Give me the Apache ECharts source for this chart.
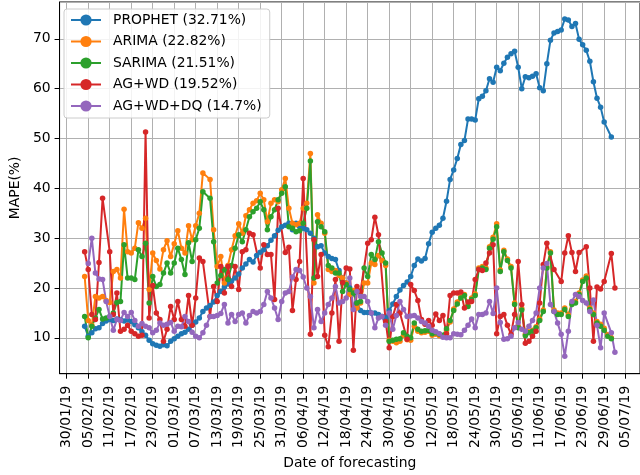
<!DOCTYPE html>
<html lang="en">
<head>
<meta charset="UTF-8">
<title>MAPE by date of forecasting</title>
<script src="https://cdn.jsdelivr.net/npm/echarts@6/dist/echarts.min.js"></script>
<style>
  html, body { margin: 0; padding: 0; background: #fff; }
  #main { width: 640px; height: 475px; }
</style>
</head>
<body>
<div id="main"></div>
<script>
// one value per day starting 04/02/19, null = no point drawn that day
var firstDay = '04/02/19';

var prophet = [
  12.3, 10.3, 11.0, 11.8, 12.0, 12.9, 13.4, 13.7, 13.5, 13.8,
  13.6, 13.4, 13.6, 13.3, 12.6, 12.0, 11.2, 10.5, 9.5, 8.8,
  8.5, 8.3, 8.6, 8.4, 9.3, 9.8, 10.3, 10.8, 11.1, 11.7,
  12.5, 13.2, 14.0, 15.3, 16.0, 16.5, 17.2, 18.5, 19.3, 20.2,
  20.8, 21.4, 22.0, 22.8, 24.0, 24.8, 25.7, 25.2, 26.5, 27.2,
  27.7, 28.5, 29.6, 30.5, 31.6, 32.3, 32.6, 33.0, 31.7, 33.0,
  32.3, 32.0, 31.7, 31.0, 30.0, 28.3, 28.5, 27.0, 26.3, 25.9,
  25.7, 23.5, 22.0, 21.0, 20.0, 19.0, 17.0, 15.5, 15.1, 15.1,
  15.0, 15.0, 14.7, 14.3, 14.0, 15.5, 16.8, 18.3, 19.6, 20.5,
  21.2, 22.3, 24.5, 25.8, 25.4, 25.9, 28.9, 31.2, 32.0, 32.6,
  34.0, 37.4, 41.8, 43.7, 46.0, 48.8, 49.6, 53.9, 53.9, 53.7,
  58.0, 58.5, 59.6, 62.0, 61.3, 64.3, 63.6, 65.1, 66.3, 67.0,
  67.5, 64.3, 60.0, 62.4, 62.2, 62.5, 63.0, 60.2, 59.6, 65.0,
  69.7, 71.2, 71.5, 71.8, 74.0, 73.8, 72.5, 73.1, 69.9, 68.8,
  67.7, 65.5, 61.4, 58.1, 56.3, 53.3, null, 50.3, null
];

var arima = [
  22.3, 13.5, 12.5, 18.3, 18.0, 18.3, 17.5, 17.1, 23.3, 23.7,
  22.0, 35.8, 27.3, 27.0, 28.0, 33.1, 32.0, 34.0, 19.7, 27.0,
  25.5, 23.8, 27.7, 29.5, 26.3, 28.9, 31.5, 28.0, 27.0, 32.5,
  29.7, 32.5, 35.0, 43.1, null, 41.8, 31.7, 24.3, 26.3, 21.0,
  24.5, 27.7, 30.5, 32.9, 31.0, 34.5, 35.7, 37.0, 37.5, 39.0,
  37.7, 33.3, 37.0, 37.7, 37.3, 39.7, 42.0, 36.0, 33.0, 32.7,
  33.0, 36.0, 37.0, 47.0, 21.0, 34.7, 33.0, 31.0, 23.7, 23.3,
  23.5, 22.5, 22.0, 21.0, 18.7, 19.5, 16.0, 17.0, 21.0, 21.0,
  25.0, 24.7, 26.5, 25.5, 24.5, 9.5, 9.3, 9.0, 9.3, 10.5,
  9.6, 9.5, 12.3, 11.3, 11.0, 11.1, 11.3, 10.5, 10.7, 10.4,
  10.3, 11.5, 13.2, 15.8, 17.2, 18.3, 18.7, 16.6, 18.0, 18.8,
  24.0, 24.3, 24.0, 28.3, 30.2, 32.9, 23.6, 27.6, 25.8, 24.3,
  17.0, 12.3, 15.9, 10.7, 11.2, 11.5, 12.2, 13.8, 15.6, 24.3,
  27.3, 15.6, 15.0, 15.0, 16.0, 14.6, 17.0, 17.3, 19.0, 21.6,
  22.4, 16.0, 15.0, 13.3, 12.7, 11.9, 10.6, 10.0, null
];

var sarima = [
  14.3, 10.0, 12.3, 14.0, 15.7, 13.8, 14.0, 14.3, 15.0, 17.1,
  17.3, 28.7, 22.0, 22.0, 21.7, 27.7, 26.3, 29.0, 17.0, 22.3,
  20.3, 20.7, 23.0, 25.0, 23.0, 25.0, 28.0, 25.7, 22.7, 29.1,
  25.3, 29.7, 32.0, 39.3, null, 38.0, 29.3, 21.0, 22.5, 23.7,
  21.7, 24.5, 28.0, 30.7, 29.3, 31.7, 34.3, 35.3, 36.0, 37.3,
  35.7, 31.7, 34.3, 35.7, 37.7, 39.0, 40.3, 32.3, 32.0, 31.3,
  31.5, 33.0, 36.0, 45.5, 22.0, 33.3, 32.3, 31.3, 24.5, 24.0,
  23.0, 23.0, 19.3, 20.7, 19.7, 19.0, 17.0, 17.3, 24.0, 22.3,
  26.7, 25.7, 29.3, 27.0, 25.0, 9.3, 9.5, 9.7, 9.8, 11.0,
  10.3, 10.0, 13.0, 11.7, 11.3, 11.4, 11.5, 10.8, 11.0, 10.7,
  10.5, 11.8, 13.5, 15.5, 16.8, 18.0, 18.5, 16.3, 17.7, 18.5,
  23.7, 24.0, 23.7, 28.0, 29.8, 32.3, 23.3, 27.3, 25.5, 24.0,
  16.7, 12.0, 15.6, 10.4, 11.0, 11.3, 12.0, 13.5, 15.3, 24.0,
  27.0, 15.3, 14.7, 14.7, 15.7, 14.3, 16.7, 17.0, 18.7, 21.3,
  22.0, 15.7, 14.7, 13.0, 12.3, 11.5, 10.3, 9.8, null
];

var agWd = [
  27.3, 23.7, 14.7, 13.7, 25.1, 38.0, null, 27.3, 14.7, 19.0,
  11.3, 11.7, 12.5, 11.3, 10.8, 10.3, 10.5, 51.3, 14.0, 20.5,
  15.0, 13.7, 9.3, 11.7, 16.3, 13.7, 17.3, 13.7, 12.3, 18.5,
  12.5, 18.0, 26.0, 25.3, null, 14.3, 20.3, 17.3, 24.3, 19.0,
  24.3, 20.3, 24.3, 19.7, 27.3, 27.7, 31.0, 30.7, null, 24.0,
  28.7, 26.7, 26.7, 17.7, 36.0, null, 27.1, 28.2, 15.5, 21.7,
  25.3, 42.0, null, 10.7, 29.7, 22.3, 26.7, 10.5, 8.2, 15.0,
  21.7, 9.3, 21.1, 24.0, 23.8, 7.5, 20.3, 19.3, null, 29.0,
  29.7, 34.2, 30.7, null, 13.3, 8.0, 14.3, 16.7, 15.0, null,
  9.7, 20.7, 19.5, 17.5, 13.7, 12.7, 13.5, 12.5, 14.8, 13.5,
  14.5, 10.8, 18.5, 19.0, 19.0, 19.2, 16.0, 17.2, 17.3, 21.7,
  23.7, 23.5, 25.0, 27.0, 28.7, 10.8, 14.3, 14.7, 12.5, 10.7,
  14.7, 25.3, 16.7, 8.9, 9.3, 10.3, 11.3, 17.0, 24.7, 29.0,
  null, 23.7, null, 21.3, 27.0, 30.5, 27.1, 23.3, 27.1, null,
  28.3, 20.0, 9.3, 20.2, 19.8, 21.3, null, 26.9, 20.0
];

var agWdDq = [
  null, 24.9, 30.0, 23.0, 21.8, 21.7, 17.3, 14.3, 11.5, 13.7,
  13.5, 15.1, 14.3, 15.1, 13.5, 12.3, 12.9, 12.3, 12.0, 11.0,
  11.5, 13.0, 12.5, 12.7, 13.1, 11.3, 12.3, 12.2, 14.3, 13.3,
  11.1, 10.3, 10.0, 11.0, 12.5, 14.3, 14.3, 14.5, 14.9, 16.7,
  13.0, 14.7, 13.3, 14.7, 15.0, 13.0, 14.5, 15.3, 15.0, 15.3,
  16.7, 19.3, 18.0, 16.0, 13.7, 17.3, 19.0, 19.3, 22.2, 23.7,
  23.5, 22.2, 20.0, 18.3, 12.0, 15.7, 13.3, 15.0, 16.7, 18.0,
  20.3, 17.0, 17.3, 18.0, 22.0, 15.7, 19.3, 18.3, 18.3, 17.3,
  15.0, 12.0, 14.0, 14.3, 12.5, 15.0, 11.7, 14.5, 17.3, 15.7,
  14.3, 14.4, 14.5, 14.0, 13.3, 13.0, 12.3, 11.5, 11.2, 10.8,
  10.1, 10.0, 10.0, 10.8, 10.7, 10.6, 11.5, 12.5, 13.8, 12.0,
  14.7, 14.7, 15.0, 17.3, 14.9, 20.0, 13.1, 9.7, 9.8, 10.3,
  12.0, 13.1, 11.7, 11.3, 12.3, 13.5, 15.0, 20.0, 24.0, 24.9,
  16.7, 15.3, 13.0, 10.7, 6.3, 11.3, 17.3, 18.7, 18.3, 17.5,
  17.0, 15.3, 17.6, 12.5, 8.0, 15.0, null, 11.0, 7.1
];

var seriesNames = ['PROPHET (32.71%)', 'ARIMA (22.82%)', 'SARIMA (21.51%)', 'AG+WD (19.52%)', 'AG+WD+DQ (14.7%)'];
var seriesColors = ['#1f77b4', '#ff7f0e', '#2ca02c', '#d62728', '#9467bd'];

// x tick labels, every 6 days
var tickLabels = [
  '30/01/19', '05/02/19', '11/02/19', '17/02/19', '23/02/19', '01/03/19', '07/03/19',
  '13/03/19', '19/03/19', '25/03/19', '31/03/19', '06/04/19', '12/04/19', '18/04/19',
  '24/04/19', '30/04/19', '06/05/19', '12/05/19', '18/05/19', '24/05/19', '30/05/19',
  '05/06/19', '11/06/19', '17/06/19', '23/06/19', '29/06/19', '05/07/19'
];

// the axis runs from 28/01/19 to 09/07/19, one category per day
function fmt(t) {
  var d = new Date(t);
  var dd = ('0' + d.getUTCDate()).slice(-2);
  var mm = ('0' + (d.getUTCMonth() + 1)).slice(-2);
  return dd + '/' + mm + '/' + String(d.getUTCFullYear()).slice(-2);
}
var days = [];
var t0 = Date.UTC(2019, 0, 28);
for (var i = 0; i < 163; i++) {
  days.push(fmt(t0 + i * 86400000));
}
var offset = days.indexOf(firstDay);

function pad(values) {
  var out = [];
  for (var k = 0; k < offset; k++) out.push(null);
  return out.concat(values);
}
function isTick(index, value) {
  return tickLabels.indexOf(days[index]) >= 0;
}

var font = 'DejaVu Sans';
var allData = [prophet, arima, sarima, agWd, agWdDq];
var series = [];
for (var s = 0; s < allData.length; s++) {
  series.push({
    name: seriesNames[s],
    type: 'line',
    data: pad(allData[s]),
    connectNulls: true,
    symbol: 'circle',
    symbolSize: 5.5,
    showSymbol: true,
    showAllSymbol: true,
    itemStyle: {color: seriesColors[s]},
    lineStyle: {color: seriesColors[s], width: 2},
    emphasis: {disabled: true}
  });
}

var myChart = echarts.init(document.getElementById('main'));
var option = {
  animation: false,
  color: seriesColors,
  textStyle: {fontFamily: font},
  grid: {
    left: 58.5,
    right: -3.5,
    top: 2,
    bottom: 101.3,
    show: true,
    borderColor: '#000',
    borderWidth: 1,
    backgroundColor: 'transparent'
  },
  legend: {
    orient: 'vertical',
    left: 64,
    top: 9,
    padding: [4, 8, 5, 6],
    itemWidth: 30,
    itemHeight: 14,
    itemGap: 7.5,
    backgroundColor: 'rgba(255,255,255,0.85)',
    borderColor: '#cccccc',
    borderWidth: 1,
    borderRadius: 3,
    textStyle: {fontFamily: font, fontSize: 13.9, color: '#000', lineHeight: 14, padding: [0, 0, 0, 7]},
    data: seriesNames
  },
  xAxis: {
    type: 'category',
    data: days,
    boundaryGap: false,
    name: 'Date of forecasting',
    nameLocation: 'middle',
    nameGap: 81,
    nameTextStyle: {fontFamily: font, fontSize: 13.9, color: '#000'},
    axisLine: {lineStyle: {color: '#000', width: 1}},
    axisTick: {show: true, interval: isTick, length: 5, lineStyle: {color: '#000'}},
    axisLabel: {
      interval: isTick,
      rotate: 90,
      margin: 12,
      fontFamily: font,
      fontSize: 13.9,
      color: '#000'
    },
    splitLine: {show: true, interval: isTick, lineStyle: {color: '#b0b0b0', width: 1}}
  },
  yAxis: {
    type: 'value',
    min: 2.8,
    max: 77.4,
    splitNumber: 5,
    name: 'MAPE(%)',
    nameLocation: 'middle',
    nameGap: 37,
    nameRotate: 90,
    nameTextStyle: {fontFamily: font, fontSize: 13.9, color: '#000'},
    axisLine: {show: true, lineStyle: {color: '#000', width: 1}},
    axisTick: {show: true, length: 5, lineStyle: {color: '#000'}},
    axisLabel: {fontFamily: font, fontSize: 13.9, color: '#000', margin: 9, showMinLabel: false, showMaxLabel: false},
    splitLine: {show: true, lineStyle: {color: '#b0b0b0', width: 1}}
  },
  series: series
};
myChart.setOption(option);
</script>
</body>
</html>
